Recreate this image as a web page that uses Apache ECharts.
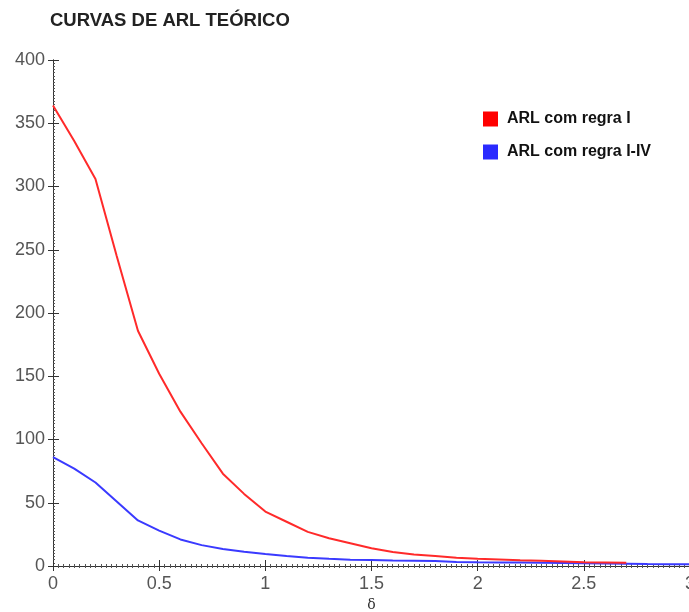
<!DOCTYPE html>
<html>
<head>
<meta charset="utf-8">
<title>Curvas de ARL teórico</title>
<script src="https://cdn.jsdelivr.net/npm/echarts@6/dist/echarts.min.js"></script>
<style>
  html, body { margin: 0; padding: 0; background: #fff; }
  #chart { width: 689px; height: 612px; }
</style>
</head>
<body>
<div id="chart"></div>
<script>
// Shift sizes (delta) and ARL values for each rule set
const deltaRegraI = [0, 0.1, 0.2, 0.3, 0.4, 0.5, 0.6, 0.7, 0.8, 0.9, 1.0, 1.1, 1.2, 1.3, 1.4,
  1.5, 1.6, 1.7, 1.8, 1.9, 2.0, 2.1, 2.2, 2.3, 2.4, 2.5, 2.6, 2.7];
const arlRegraI = [364, 336, 306, 245, 186, 152, 122, 97, 73, 57, 43, 35, 27, 22, 18,
  14, 11, 9, 8, 6.5, 5.8, 5.2, 4.6, 4.1, 3.6, 3.0, 2.8, 2.6];

const deltaRegraIIV = [0, 0.1, 0.2, 0.3, 0.4, 0.5, 0.6, 0.7, 0.8, 0.9, 1.0, 1.1, 1.2, 1.3, 1.4,
  1.5, 1.6, 1.7, 1.8, 1.9, 2.0, 2.1, 2.2, 2.3, 2.4, 2.5, 2.6, 2.7, 2.8, 2.9, 3.0];
const arlRegraIIV = [86, 77, 66, 51, 36, 28, 21, 16.5, 13.5, 11.2, 9.5, 8, 6.6, 5.7, 5.0,
  4.7, 4.4, 4.2, 4.0, 3.2, 2.9, 2.8, 2.7, 2.6, 2.4, 2.1, 1.9, 1.7, 1.5, 1.4, 1.3];

const seriesNames = ['ARL com regra I', 'ARL com regra I-IV'];
const xTicks = { min: 0, max: 3, interval: 0.5 };
const yTicks = { min: 0, max: 400, interval: 50 };

const pairs = (xs, ys) => xs.map((x, i) => [x, ys[i]]);

const labelFont = { fontFamily: 'Liberation Sans', fontSize: 18, color: '#555' };
const axisLine = { show: true, lineStyle: { color: '#333', width: 1 } };

const chart = echarts.init(document.getElementById('chart'), null, { renderer: 'canvas' });
chart.setOption({
  animation: false,
  backgroundColor: '#fff',
  title: {
    text: 'CURVAS DE ARL TEÓRICO',
    left: 50,
    top: 11,
    padding: 0,
    textStyle: { fontFamily: 'Liberation Sans', fontSize: 18.5, fontWeight: 'bold', color: '#222' }
  },
  legend: {
    data: seriesNames,
    orient: 'vertical',
    left: 483,
    top: 111,
    padding: 0,
    itemWidth: 15,
    itemHeight: 15,
    itemGap: 17,
    icon: 'rect',
    textStyle: { fontFamily: 'Liberation Sans', fontSize: 16, fontWeight: 'bold', color: '#111', padding: [0, 0, 0, 4] }
  },
  grid: { left: 53, top: 60, width: 637, height: 506, containLabel: false, outerBoundsMode: 'none' },
  xAxis: [
    {
      type: 'value', position: 'bottom',
      min: xTicks.min, max: xTicks.max, interval: xTicks.interval,
      name: 'δ', nameLocation: 'middle', nameGap: 32,
      nameTextStyle: { fontFamily: 'DejaVu Serif', fontSize: 14, color: '#333' },
      axisLine: axisLine,
      axisTick: { show: true, inside: true, length: 6, lineStyle: { color: '#333' } },
      minorTick: { show: true, splitNumber: 20, length: 2, lineStyle: { color: '#555' } },
      axisLabel: Object.assign({ margin: 9 }, labelFont),
      splitLine: { show: false }
    },
    {
      type: 'value', position: 'top',
      min: xTicks.min, max: xTicks.max, interval: xTicks.interval,
      axisLine: axisLine,
      axisTick: { show: true, inside: true, length: 5, lineStyle: { color: '#333' } },
      minorTick: { show: true, splitNumber: 20, length: 2, lineStyle: { color: '#555' } },
      axisLabel: { show: false },
      splitLine: { show: false }
    }
  ],
  yAxis: [
    {
      type: 'value', position: 'left',
      min: yTicks.min, max: yTicks.max, interval: yTicks.interval,
      axisLine: axisLine,
      axisTick: { show: true, inside: true, length: 6, lineStyle: { color: '#333' } },
      minorTick: { show: true, splitNumber: 20, length: 2, lineStyle: { color: '#555' } },
      axisLabel: Object.assign({ margin: 8 }, labelFont),
      splitLine: { show: false }
    },
    {
      type: 'value', position: 'right',
      min: yTicks.min, max: yTicks.max, interval: yTicks.interval,
      axisLine: axisLine,
      axisTick: { show: true, inside: true, length: 5, lineStyle: { color: '#333' } },
      axisLabel: { show: false },
      splitLine: { show: false }
    }
  ],
  series: [
    {
      name: seriesNames[1],
      type: 'line',
      data: pairs(deltaRegraIIV, arlRegraIIV),
      showSymbol: false,
      itemStyle: { color: '#2a2aff' },
      lineStyle: { color: '#3a3aff', width: 2 },
      z: 2
    },
    {
      name: seriesNames[0],
      type: 'line',
      data: pairs(deltaRegraI, arlRegraI),
      showSymbol: false,
      itemStyle: { color: '#ff0000' },
      lineStyle: { color: '#ff2a2a', width: 2 },
      z: 3
    }
  ]
});
</script>
</body>
</html>
